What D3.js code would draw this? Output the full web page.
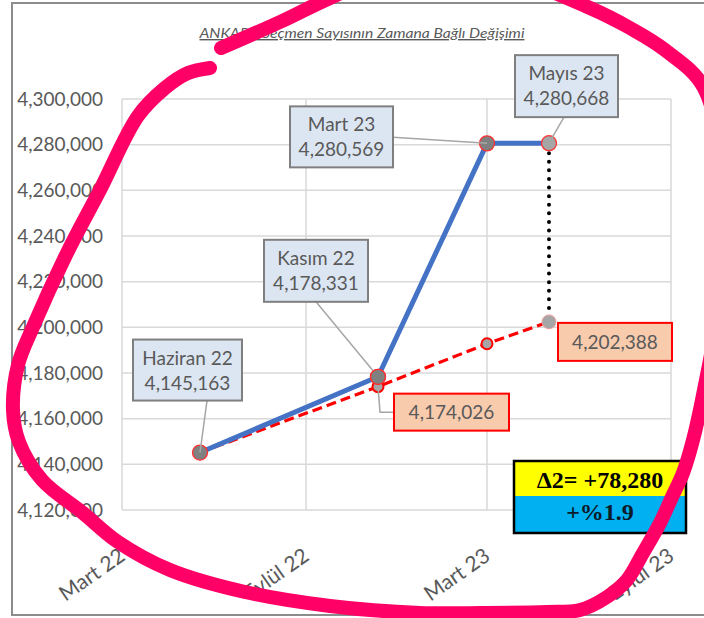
<!DOCTYPE html>
<html>
<head>
<meta charset="utf-8">
<script src="https://cdn.jsdelivr.net/npm/d3@7"></script>
<style>
	body { margin: 0; background: #fff; }
	svg { display: block; font-family: Lato, "Open Sans", sans-serif; }
</style>
</head>
<body>
<svg id="chart" width="704" height="618"></svg>
<script>
const chartTitle = "ANKARA Seçmen Sayısının Zamana Bağlı Değişimi";
const pointDates = ["2022-05-18", "2022-11-12", "2023-03-01", "2023-05-02"];
const pointNames = ["Haziran 22", "Kasım 22", "Mart 23", "Mayıs 23"];
const actualVoters = [4145163, 4178331, 4280569, 4280668];
const trendVoters = [4145163, 4174026, 4192800, 4202388];
const tickDates = ["2022-03-01", "2022-09-01", "2023-03-01", "2023-09-01"];
const tickNames = ["Mart 22", "Eylül 22", "Mart 23", "Eylül 23"];
const yTicks = [4120000, 4140000, 4160000, 4180000, 4200000, 4220000, 4240000, 4260000, 4280000, 4300000];
const diffLine = "Δ2= +78,280";
const pctLine = "+%1.9";

// hand drawn marker stroke over the picture (pixel space)
const scribble = [
	[210, 68], [188, 73], [165, 88], [138, 116], [100, 190], [67, 253], [33, 327],
	[18, 365], [13, 410], [19, 442], [42, 480], [83, 513], [118, 542], [170, 570],
	[245, 592], [330, 606], [420, 613], [480, 613], [547, 612], [580, 610], [607, 597],
	[627, 580], [643, 553], [660, 523], [672, 497], [683, 473], [693, 440], [704, 390],
	[718, 310], [724, 200], [704, 88], [665, 50], [630, 28], [590, 8], [500, -25],
	[400, -30], [330, -2], [280, 22], [221, 48]
];

const parse = d3.timeParse("%Y-%m-%d");
const fmt = d3.format(",");
const svg = d3.select("#chart");

const x = d3.scaleTime()
	.domain([parse(tickDates[0]), parse(tickDates[tickDates.length - 1])])
	.range([122, 671]);
const y = d3.scaleLinear().domain([4120000, 4300000]).range([510, 99]);

// outer chart border
svg.append("rect")
	.attr("x", 12).attr("y", 3).attr("width", 710).attr("height", 612)
	.attr("fill", "#fff").attr("stroke", "#8c8c8c").attr("stroke-width", 2);

// title
svg.append("text")
	.attr("x", 362).attr("y", 38)
	.attr("text-anchor", "middle")
	.attr("font-style", "italic")
	.attr("text-decoration", "underline")
	.attr("font-size", 14)
	.attr("fill", "#595959")
	.attr("textLength", 325)
	.attr("lengthAdjust", "spacingAndGlyphs")
	.text(chartTitle);

// grid
const grid = svg.append("g").attr("stroke", "#d9d9d9").attr("stroke-width", 1.5);
grid.selectAll(".h").data(yTicks).join("line")
	.attr("x1", x.range()[0]).attr("x2", x.range()[1])
	.attr("y1", (d) => y(d)).attr("y2", (d) => y(d));
grid.selectAll(".v").data(tickDates).join("line")
	.attr("x1", (d) => x(parse(d))).attr("x2", (d) => x(parse(d)))
	.attr("y1", y.range()[0]).attr("y2", y.range()[1]);

// y axis
const yAxis = svg.append("g")
	.attr("transform", `translate(${x.range()[0]},0)`)
	.call(d3.axisLeft(y).tickValues(yTicks).tickFormat(fmt).tickSize(0).tickPadding(19));
yAxis.select(".domain").remove();
yAxis.selectAll("text").attr("font-size", 19).attr("fill", "#595959")
	.attr("font-family", "Lato, sans-serif");

// x axis
const xAxis = svg.append("g")
	.attr("transform", `translate(0,${y.range()[0]})`)
	.call(d3.axisBottom(x).tickValues(tickDates.map(parse))
		.tickFormat((d, i) => tickNames[i]).tickSize(0));
xAxis.select(".domain").remove();
xAxis.selectAll("text")
	.attr("x", 0).attr("y", 0).attr("dy", 0)
	.attr("transform", "translate(4,49) rotate(-35)")
	.style("text-anchor", "end")
	.attr("font-size", 21).attr("fill", "#595959")
	.attr("font-family", "Lato, sans-serif");

const actualData = pointDates.map((d, i) => ({ date: parse(d), value: actualVoters[i], name: pointNames[i] }));
const trendData = pointDates.map((d, i) => ({ date: parse(d), value: trendVoters[i] }));
const line = d3.line().x((d) => x(d.date)).y((d) => y(d.value));

// trend (dashed red)
svg.append("path").datum(trendData)
	.attr("d", line).attr("fill", "none")
	.attr("stroke", "#ff0000").attr("stroke-width", 3.2).attr("stroke-dasharray", "10 5");

svg.selectAll(".trendDot").data(trendData.slice(1)).join("circle")
	.attr("cx", (d) => x(d.date)).attr("cy", (d) => y(d.value))
	.attr("r", (d, i) => (i === 2 ? 7 : 5.5))
	.attr("fill", "#a6a6a6")
	.attr("stroke", (d, i) => (i === 2 ? "#f4a0a0" : "#ff0000"))
	.attr("stroke-width", (d, i) => (i === 2 ? 1 : 2));

// dotted gap between last actual and last trend value
const last = actualData.length - 1;
svg.append("line")
	.attr("x1", x(actualData[last].date)).attr("x2", x(trendData[last].date))
	.attr("y1", y(actualData[last].value) + 10).attr("y2", y(trendData[last].value) - 9)
	.attr("stroke", "#000").attr("stroke-width", 4)
	.attr("stroke-linecap", "round").attr("stroke-dasharray", "0 8.6");

// actual (blue)
svg.append("path").datum(actualData)
	.attr("d", line).attr("fill", "none")
	.attr("stroke", "#4472c4").attr("stroke-width", 5).attr("stroke-linejoin", "round");

svg.selectAll(".actDot").data(actualData).join("circle")
	.attr("cx", (d) => x(d.date)).attr("cy", (d) => y(d.value))
	.attr("r", 7.5)
	.attr("fill", (d, i) => (i === last ? "#a6a6a6" : "#808080"))
	.attr("stroke", "#ff3030").attr("stroke-width", 1.3);

// callouts for actual values: box offset from point, leader anchor inside box
const blueBoxes = [
	{ dx: -67, dy: -113, w: 109, h: 61, ax: 74, ay: 61 },
	{ dx: -114, dy: -137, w: 104, h: 62, ax: 52, ay: 62 },
	{ dx: -197, dy: -37, w: 103, h: 61, ax: 103, ay: 31 },
	{ dx: -34, dy: -88, w: 103, h: 62, ax: 49, ay: 62 },
];

actualData.forEach((d, i) => {
	const px = x(d.date), py = y(d.value), b = blueBoxes[i];
	const bx = px + b.dx, by = py + b.dy;
	svg.append("line")
		.attr("x1", bx + b.ax).attr("y1", by + b.ay).attr("x2", px).attr("y2", py)
		.attr("stroke", "#a6a6a6").attr("stroke-width", 1.5);
	svg.append("rect")
		.attr("x", bx).attr("y", by).attr("width", b.w).attr("height", b.h)
		.attr("fill", "#dce6f2").attr("stroke", "#7f7f7f").attr("stroke-width", 2);
	const t = svg.append("text")
		.attr("text-anchor", "middle").attr("font-size", 19).attr("fill", "#595959");
	t.append("tspan").attr("x", bx + b.w / 2).attr("y", by + 25).text(d.name);
	t.append("tspan").attr("x", bx + b.w / 2).attr("y", by + 50).text(fmt(d.value));
});

// callouts for trend values
const redBoxes = [
	{ i: 1, dx: 16, dy: 7, w: 115, h: 37, elbow: true },
	{ i: 3, dx: 9, dy: 1, w: 114, h: 38, elbow: false },
];

redBoxes.forEach((b) => {
	const d = trendData[b.i];
	const px = x(d.date), py = y(d.value);
	const bx = px + b.dx, by = py + b.dy;
	if (b.elbow) {
		svg.append("path")
			.attr("d", `M${px},${py} L${px + 2},${by + b.h / 2} L${bx},${by + b.h / 2}`)
			.attr("fill", "none").attr("stroke", "#a6a6a6").attr("stroke-width", 1.5);
		// keep the blue dot above the elbow start
		svg.append("circle").attr("cx", x(actualData[b.i].date)).attr("cy", y(actualData[b.i].value))
			.attr("r", 7.5).attr("fill", "#808080").attr("stroke", "#ff3030").attr("stroke-width", 1.3);
	}
	svg.append("rect")
		.attr("x", bx).attr("y", by).attr("width", b.w).attr("height", b.h)
		.attr("fill", "#f8cbad").attr("stroke", "#ff0000").attr("stroke-width", 2);
	svg.append("text")
		.attr("x", bx + b.w / 2).attr("y", by + b.h / 2 + 7)
		.attr("text-anchor", "middle").attr("font-size", 19).attr("fill", "#595959")
		.text(fmt(d.value));
});

// difference box
const box = svg.append("g").attr("transform", "translate(514,461)");
box.append("rect").attr("width", 172).attr("height", 35).attr("fill", "#ffff00");
box.append("rect").attr("y", 35).attr("width", 172).attr("height", 37).attr("fill", "#00b0f0");
box.append("rect").attr("width", 172).attr("height", 72)
	.attr("fill", "none").attr("stroke", "#000").attr("stroke-width", 2.5);
box.selectAll("text").data([diffLine, pctLine]).join("text")
	.attr("x", 86).attr("y", (d, i) => (i === 0 ? 27 : 59))
	.attr("text-anchor", "middle")
	.attr("font-family", "'Liberation Serif', 'DejaVu Serif', serif")
	.attr("font-weight", "bold").attr("font-size", 24)
	.attr("fill", (d, i) => (i === 0 ? "#000" : "#0c1a2a"))
	.text((d) => d);

// pink marker annotation
svg.append("path").datum(scribble)
	.attr("d", d3.line().curve(d3.curveCatmullRom.alpha(0.5)))
	.attr("fill", "none").attr("stroke", "#ff0066").attr("stroke-width", 14)
	.attr("stroke-linecap", "round").attr("stroke-linejoin", "round");
</script>
</body>
</html>
